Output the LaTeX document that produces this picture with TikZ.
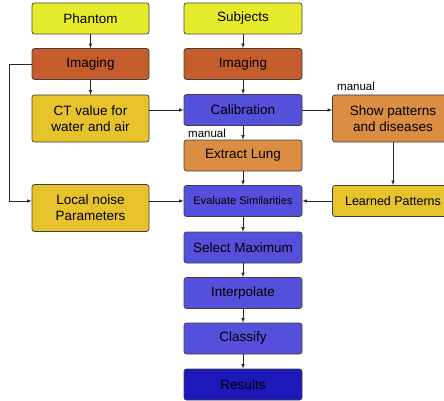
\documentclass[tikz,border=0pt]{standalone}
\usepackage{fontspec}
\setmainfont{Liberation Sans}
\usetikzlibrary{arrows}

\definecolor{limey}{HTML}{E6EC2B}
\definecolor{rust}{HTML}{C45C2C}
\definecolor{golden}{HTML}{E6C32B}
\definecolor{amber}{HTML}{DB8D42}
\definecolor{violetblue}{HTML}{5550DB}
\definecolor{deepblue}{HTML}{1D18B9}

\tikzset{
  box/.style={draw=black!75, line width=0.7pt, rounded corners=2.5pt, minimum width=117pt, minimum height=31pt, inner sep=1pt, align=center, font=\fontsize{13.5}{16}\selectfont},
  tallbox/.style={box, minimum height=47pt},
  widebox/.style={minimum width=121pt},
  lbl/.style={inner sep=0pt, font=\fontsize{11.5}{13}\selectfont},
  arr/.style={-latex, draw=black!85, line width=0.6pt}
}

\begin{document}
\begin{tikzpicture}[x=1pt, y=-1pt]
\useasboundingbox (0,0) rectangle (444,401);

% left column
\node[box, fill=limey] (phantom) at (90.5,18.5) {Phantom};
\node[box, fill=rust] (imgL) at (90.5,64) {Imaging};
\node[tallbox, fill=golden] (ctval) at (90.5,118.5) {CT value for\\water and air};
\node[tallbox, fill=golden] (noise) at (90.5,208) {Local noise\\Parameters};

% middle column
\node[box, fill=limey, minimum width=118pt] (subj) at (243,18.5) {Subjects};
\node[box, fill=rust, minimum width=118pt] (imgM) at (243,64) {Imaging};
\node[box, fill=violetblue, minimum width=118pt] (calib) at (243,110) {Calibration};
\node[box, fill=amber, minimum width=118pt] (lung) at (243,155.5) {Extract Lung};
\node[box, fill=violetblue, minimum width=118pt, font=\fontsize{11}{13}\selectfont] (evalsim) at (243,201) {Evaluate Similarities};
\node[box, fill=violetblue, minimum width=118pt] (select) at (243,247.5) {Select Maximum};
\node[box, fill=violetblue, minimum width=118pt] (interp) at (243,293) {Interpolate};
\node[box, fill=violetblue, minimum width=118pt] (classify) at (243,338.5) {Classify};
\node[box, fill=deepblue, minimum width=118pt] (results) at (243,384.5) {Results};

% right column
\node[tallbox, widebox, fill=amber] (show) at (393,118.5) {Show patterns\\and diseases};
\node[box, widebox, fill=golden, font=\fontsize{12.5}{15}\selectfont] (learned) at (393,201) {Learned Patterns};

\node[lbl, anchor=base west] (manshow) at (337,91) {manual};
\node[lbl, anchor=base west] (manlung) at (188,137) {manual};

% connectors
\coordinate (bend) at (9,201);
\draw[arr] (phantom) -- (imgL);
\draw[arr] (imgL) -- (ctval);
\draw[arr] (imgL.west) -| (bend) -- (noise.west |- bend);
\draw[arr] (ctval.east |- calib) -- (calib);
\draw[arr] (noise.east |- evalsim) -- (evalsim);
\draw[arr] (calib) -- (show.west |- calib);
\draw[arr] (show) -- (learned);
\draw[arr] (learned) -- (evalsim);

\foreach \a/\b in {subj/imgM, imgM/calib, calib/lung, lung/evalsim, evalsim/select, select/interp, interp/classify, classify/results}
  \draw[arr] (\a) -- (\b);
\end{tikzpicture}
\end{document}
